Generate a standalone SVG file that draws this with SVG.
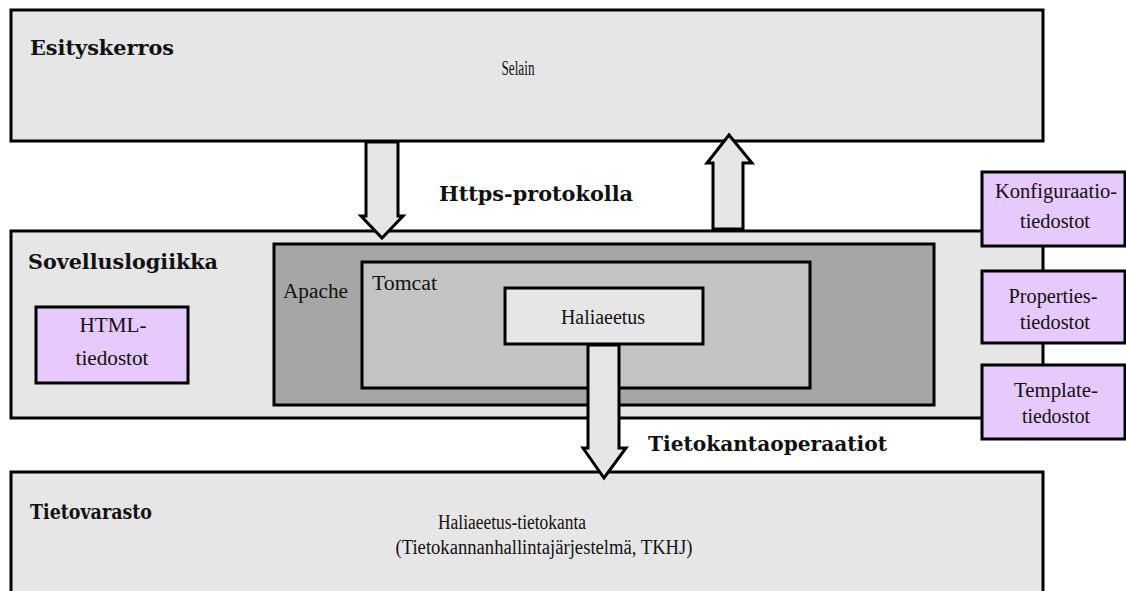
<svg xmlns="http://www.w3.org/2000/svg" width="1126" height="591" viewBox="0 0 1126 591">
  <style>
    .layer { fill: #e6e6e6; stroke: #000; stroke-width: 3; }
    .apache { fill: #a6a6a6; stroke: #000; stroke-width: 3; }
    .tomcat { fill: #c4c4c4; stroke: #000; stroke-width: 3; }
    .app { fill: #e6e6e6; stroke: #000; stroke-width: 3; }
    .file { fill: #e6c9fd; stroke: #000; stroke-width: 3; }
    .arrow { fill: #e6e6e6; stroke: #000; stroke-width: 3; stroke-linejoin: miter; }
    .head { font-family: "DejaVu Serif", "Liberation Serif", serif; font-weight: bold; font-size: 20px; fill: #111; }
    .txt { font-family: "Liberation Serif", "DejaVu Serif", serif; font-size: 20px; fill: #111; }
  </style>
  <rect width="1126" height="591" fill="#fff"/>

  <!-- Presentation layer -->
  <g id="esityskerros">
    <rect class="layer" x="11" y="10" width="1032" height="131"/>
    <text class="head" x="30" y="55" textLength="144" lengthAdjust="spacingAndGlyphs">Esityskerros</text>
    <text class="txt" x="518" y="75" text-anchor="middle" font-size="15" textLength="33" lengthAdjust="spacingAndGlyphs">Selain</text>
  </g>

  <!-- Application logic layer -->
  <g id="sovelluslogiikka">
    <rect class="layer" x="11" y="231" width="1032" height="187"/>
    <text class="head" x="28" y="269" textLength="190" lengthAdjust="spacingAndGlyphs">Sovelluslogiikka</text>
  </g>

  <g id="html">
    <rect class="file" x="36" y="307" width="152" height="76"/>
    <text class="txt" x="113" y="332" text-anchor="middle" textLength="67" lengthAdjust="spacingAndGlyphs">HTML-</text>
    <text class="txt" x="112" y="365" text-anchor="middle" textLength="73" lengthAdjust="spacingAndGlyphs">tiedostot</text>
  </g>

  <g id="apache">
    <rect class="apache" x="274" y="244" width="660" height="161"/>
    <text class="txt" x="283" y="298" textLength="65" lengthAdjust="spacingAndGlyphs">Apache</text>
  </g>

  <g id="tomcat">
    <rect class="tomcat" x="362" y="262" width="448" height="126"/>
    <text class="txt" x="372" y="290" textLength="65" lengthAdjust="spacingAndGlyphs">Tomcat</text>
  </g>

  <g id="haliaeetus">
    <rect class="app" x="505" y="288" width="198" height="56"/>
    <text class="txt" x="603" y="324" text-anchor="middle" textLength="84" lengthAdjust="spacingAndGlyphs">Haliaeetus</text>
  </g>

  <!-- Configuration files -->
  <g id="konfiguraatio">
    <rect class="file" x="982" y="172" width="143" height="74"/>
    <text class="txt" x="1056" y="198" text-anchor="middle" textLength="122" lengthAdjust="spacingAndGlyphs">Konfiguraatio-</text>
    <text class="txt" x="1055" y="228" text-anchor="middle" textLength="70" lengthAdjust="spacingAndGlyphs">tiedostot</text>
  </g>

  <g id="properties">
    <rect class="file" x="982" y="271" width="143" height="72"/>
    <text class="txt" x="1053" y="303" text-anchor="middle" textLength="89" lengthAdjust="spacingAndGlyphs">Properties-</text>
    <text class="txt" x="1055" y="329" text-anchor="middle" textLength="70" lengthAdjust="spacingAndGlyphs">tiedostot</text>
  </g>

  <g id="template">
    <rect class="file" x="982" y="365" width="143" height="74"/>
    <text class="txt" x="1056" y="397" text-anchor="middle" textLength="84" lengthAdjust="spacingAndGlyphs">Template-</text>
    <text class="txt" x="1056" y="423" text-anchor="middle" textLength="68" lengthAdjust="spacingAndGlyphs">tiedostot</text>
  </g>

  <!-- Data storage layer -->
  <g id="tietovarasto">
    <rect class="layer" x="11" y="472" width="1032" height="140"/>
    <text class="head" x="30" y="519" textLength="122" lengthAdjust="spacingAndGlyphs">Tietovarasto</text>
    <text class="txt" x="512" y="529" text-anchor="middle" font-size="18" textLength="148" lengthAdjust="spacingAndGlyphs">Haliaeetus-tietokanta</text>
    <text class="txt" x="544" y="554" text-anchor="middle" font-size="18" textLength="297" lengthAdjust="spacingAndGlyphs">(Tietokannanhallintajärjestelmä, TKHJ)</text>
  </g>

  <!-- Block arrows between layers -->
  <g id="connectors">
    <polygon class="arrow" points="366,142 398,142 398,216 403,216 382,238 361,216 366,216"/>
    <polygon class="arrow" points="713,229 743,229 743,163 752,163 729,135 707,163 713,163"/>
    <polygon class="arrow" points="588,345 619,345 619,448 626,448 604,478 583,448 588,448"/>
    <text class="head" x="439" y="201" textLength="194" lengthAdjust="spacingAndGlyphs">Https-protokolla</text>
    <text class="head" x="648" y="451" textLength="239" lengthAdjust="spacingAndGlyphs">Tietokantaoperaatiot</text>
  </g>
</svg>
